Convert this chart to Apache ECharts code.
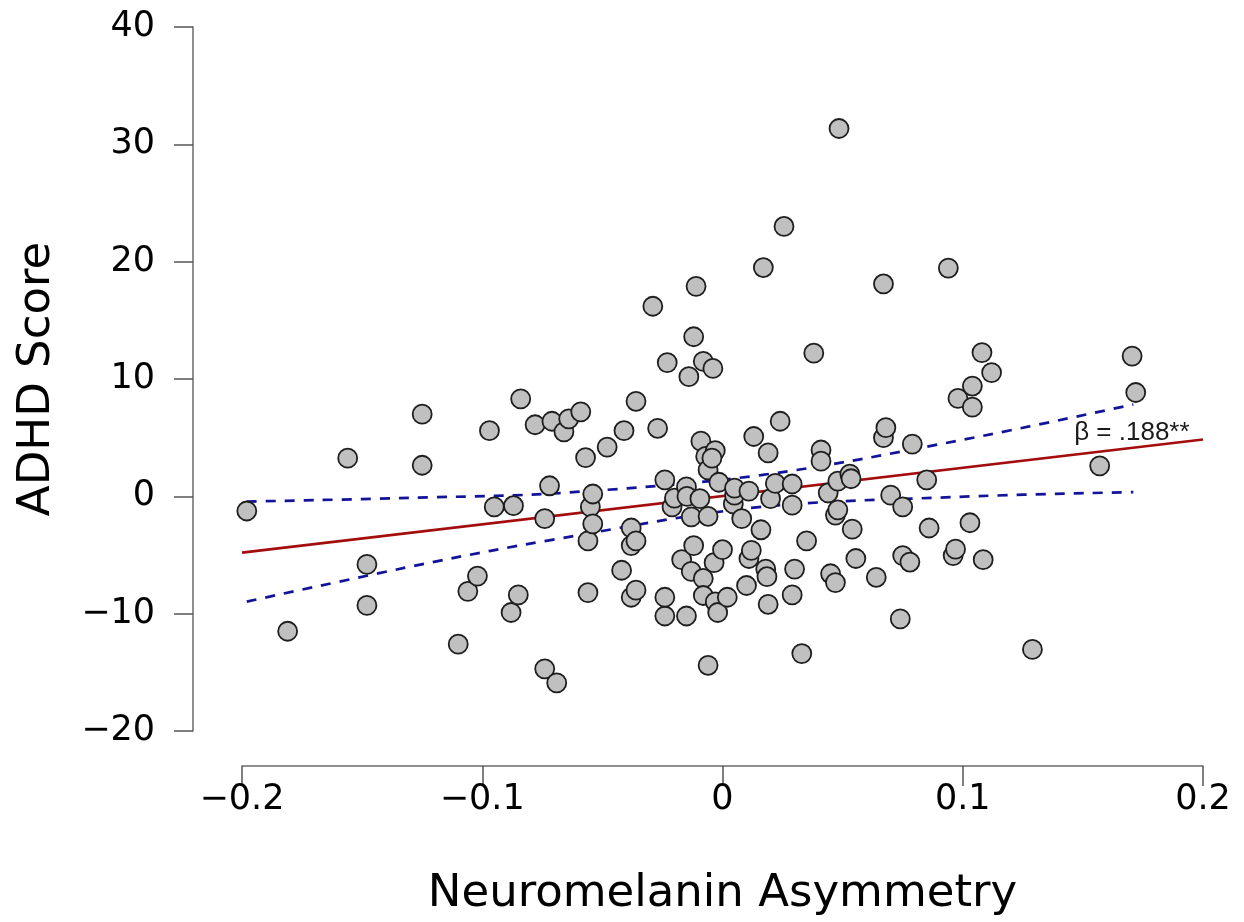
<!DOCTYPE html>
<html>
<head>
<meta charset="utf-8">
<script src="https://cdn.jsdelivr.net/npm/echarts@6/dist/echarts.min.js"></script>
<style>
  html, body { margin: 0; padding: 0; background: #fff; }
  #chart { width: 1244px; height: 922px; }
</style>
</head>
<body>
<div id="chart"></div>
<script>
// ---- data ----
var asymmetry = [
  -0.198, -0.181, -0.156, -0.148, -0.148, -0.125, -0.125, -0.110, -0.106, -0.102,
  -0.097, -0.095, -0.088, -0.087, -0.085, -0.084, -0.078, -0.074, -0.074, -0.072,
  -0.071, -0.069, -0.066, -0.064, -0.059, -0.057, -0.056, -0.056, -0.055, -0.054,
  -0.054, -0.048, -0.042, -0.041, -0.038, -0.038, -0.038, -0.036, -0.036, -0.036,
  -0.029, -0.027, -0.024, -0.024, -0.024, -0.023, -0.021, -0.020, -0.017, -0.015,
  -0.014, -0.013, -0.012, -0.012, -0.013, -0.011, -0.009, -0.008, -0.008, -0.008,
  -0.007, -0.006, -0.006, -0.006, -0.004, -0.0035, -0.003, -0.003, -0.0015, -0.002,
  0.000, 0.002, 0.0045, 0.005, 0.005, 0.008, 0.011, 0.010, 0.011, 0.012,
  0.013, 0.016, 0.017, 0.018, 0.0185, 0.019, 0.019, 0.020, 0.022, 0.024,
  0.0256, 0.030, 0.029, 0.029, 0.029, 0.033, 0.035, 0.038, 0.041, 0.041,
  0.045, 0.044, 0.047, 0.047, 0.0485, 0.048, 0.048, 0.053, 0.0535, 0.054,
  0.0555, 0.064, 0.067, 0.067, 0.068, 0.070, 0.074, 0.075, 0.075, 0.078,
  0.079, 0.085, 0.086, 0.094, 0.096, 0.097, 0.098, 0.103, 0.104, 0.104,
  0.108, 0.1085, 0.112, 0.129, 0.157, 0.1705, 0.172, -0.015, -0.0148, -0.0094,
  -0.0044
];
var adhdScore = [
  -1.25, -11.5, 3.25, -5.8, -9.3, 7.0, 2.65, -12.6, -8.1, -6.8,
  5.6, -0.9, -9.9, -0.8, -8.4, 8.3, 6.1, -14.7, -1.9, 0.9,
  6.4, -15.9, 5.5, 6.6, 7.2, 3.3, -3.8, -8.2, -0.9, 0.2,
  -2.35, 4.2, -6.3, 5.6, -8.6, -2.7, -4.2, 8.1, -3.8, -8.0,
  16.2, 5.8, -10.2, 1.4, -8.6, 11.4, -0.9, -0.15, -5.4, -10.2,
  10.2, -6.4, -4.2, 13.6, -1.75, 17.9, 4.7, -7.0, 11.5, -8.45,
  3.4, -14.4, 2.25, -1.7, 10.9, -5.65, -9.0, 3.9, 1.2, -9.9,
  -4.55, -8.6, -0.65, 0.1, 0.7, -1.9, 0.45, -7.6, -5.3, -4.6,
  5.1, -2.85, 19.5, -6.2, -6.85, 3.7, -9.2, -0.2, 1.1, 6.4,
  23.0, -6.2, -0.75, -8.4, 1.05, -13.4, -3.8, 12.2, 3.95, 3.0,
  -6.6, 0.3, -1.6, -7.35, 31.35, 1.3, -1.15, 1.9, 1.5, -2.8,
  -5.3, -6.9, 18.1, 5.0, 5.85, 0.1, -10.45, -0.9, -5.05, -5.6,
  4.45, 1.4, -2.7, 19.45, -5.05, -4.5, 8.35, -2.25, 9.4, 7.6,
  12.25, -5.4, 10.55, -13.05, 2.6, 11.95, 8.85, 0.8, 0.0, -0.2,
  3.25
];
var fitX = [-0.2, 0.2];
var fitY = [-4.8, 4.85];
var upperX = [-0.198, -0.122, -0.068, 0.016, 0.099, 0.171];
var upperY = [-0.45, -0.09, 0.28, 1.81, 4.78, 7.83];
var lowerX = [-0.198, -0.122, -0.071, 0.012, 0.096, 0.171];
var lowerY = [-8.97, -5.66, -3.71, -0.99, -0.06, 0.36];
var xTickLabels = ['\u22120.2', '\u22120.1', '0', '0.1', '0.2'];
var yTickLabels = ['\u221220', '\u221210', '0', '10', '20', '30', '40'];
var annotationText = '\u03b2 = .188**';
var annotationAt = [0.1704, 5.45];

// ---- build ----
function zip(a, b) { return a.map(function (v, i) { return [v, b[i]]; }); }
var X_MIN = -0.2, X_MAX = 0.2, X_INT = 0.1;
var Y_MIN = -20, Y_MAX = 40, Y_INT = 10;
var FONT = 'DejaVu Sans';

var chart = echarts.init(document.getElementById('chart'), null, { renderer: 'canvas' });
chart.setOption({
  animation: false,
  backgroundColor: '#ffffff',
  grid: { left: 242, right: 41, top: 27, bottom: 188, containLabel: false },
  xAxis: {
    type: 'value', min: X_MIN, max: X_MAX, interval: X_INT,
    offset: 35,
    name: 'Neuromelanin Asymmetry', nameLocation: 'middle', nameGap: 106,
    nameTextStyle: { fontFamily: FONT, fontSize: 45, color: '#000' },
    axisLine: { show: true, onZero: false, lineStyle: { color: '#6a6a6a', width: 1.5 } },
    axisTick: { show: true, inside: false, length: 20, lineStyle: { color: '#555', width: 1.5 } },
    splitLine: { show: false },
    axisLabel: {
      margin: 16, fontFamily: FONT, fontSize: 35, color: '#000',
      formatter: function (v) { return xTickLabels[Math.round((v - X_MIN) / X_INT)]; }
    }
  },
  yAxis: {
    type: 'value', min: Y_MIN, max: Y_MAX, interval: Y_INT,
    offset: 49,
    name: 'ADHD Score', nameLocation: 'middle', nameGap: 133, nameRotate: 90,
    nameTextStyle: { fontFamily: FONT, fontSize: 45, color: '#000' },
    axisLine: { show: true, onZero: false, lineStyle: { color: '#6a6a6a', width: 1.5 } },
    axisTick: { show: true, inside: false, length: 19, lineStyle: { color: '#555', width: 1.5 } },
    splitLine: { show: false },
    axisLabel: {
      margin: 38, fontFamily: FONT, fontSize: 35, color: '#000',
      formatter: function (v) { return yTickLabels[Math.round((v - Y_MIN) / Y_INT)]; }
    }
  },
  series: [
    {
      type: 'line', data: zip(fitX, fitY), symbol: 'none', z: 2,
      lineStyle: { color: '#a30d0d', width: 2.6 },
      markPoint: {
        symbol: 'circle', symbolSize: 0,
        label: { show: true, position: 'inside', formatter: annotationText,
                 fontFamily: 'Liberation Sans', fontSize: 26, color: '#1a1a1a' },
        data: [{ coord: annotationAt }]
      }
    },
    {
      type: 'line', data: zip(upperX, upperY), symbol: 'none', smooth: 0.35, z: 2,
      lineStyle: { color: '#12129a', width: 2.7, type: [10, 9] }
    },
    {
      type: 'line', data: zip(lowerX, lowerY), symbol: 'none', smooth: 0.35, z: 2,
      lineStyle: { color: '#12129a', width: 2.7, type: [10, 9] }
    },
    {
      type: 'scatter', data: zip(asymmetry, adhdScore), symbol: 'circle', symbolSize: 19, z: 5,
      itemStyle: { color: '#c0c0c0', borderColor: '#1e1e1e', borderWidth: 1.8, opacity: 1 }
    }
  ]
});
</script>
</body>
</html>
